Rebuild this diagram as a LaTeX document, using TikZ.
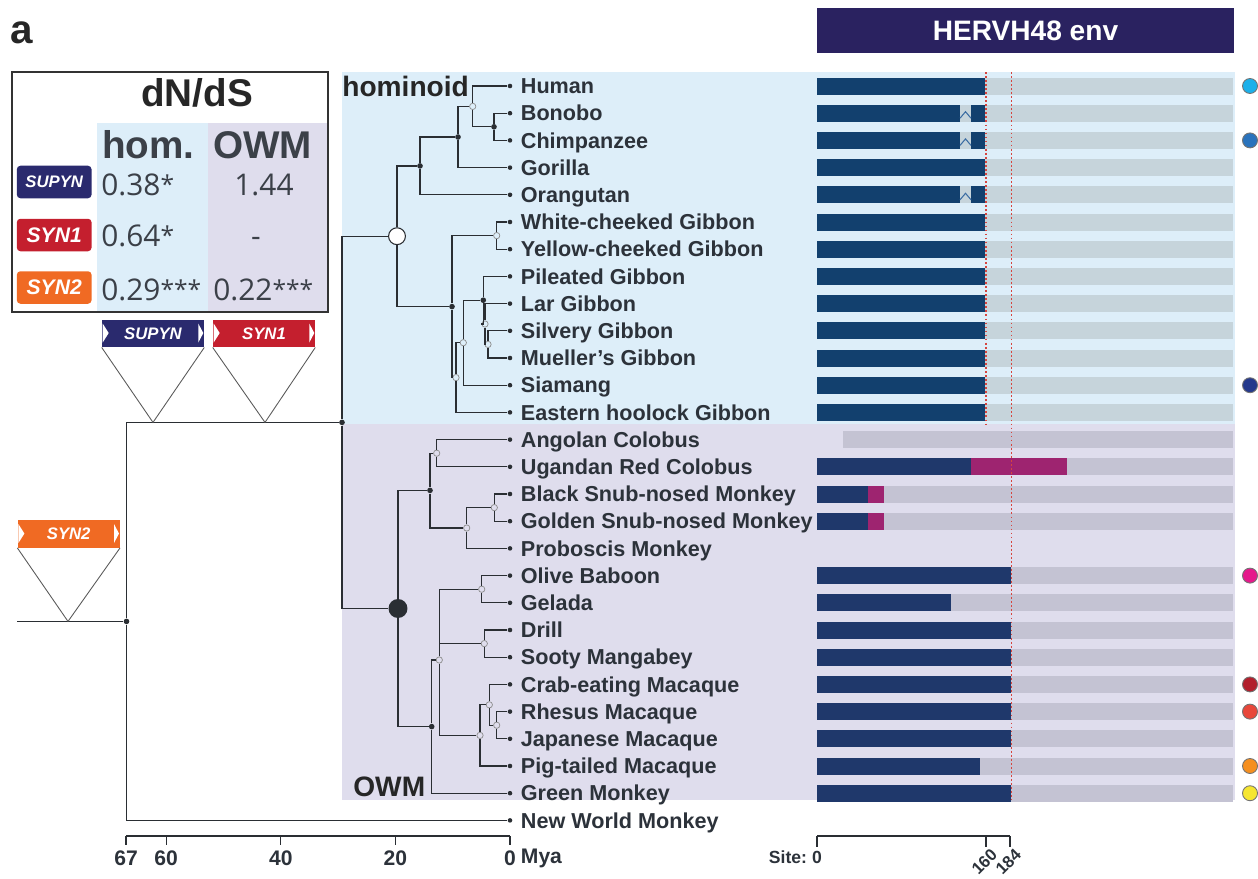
\documentclass[tikz,border=0pt]{standalone}
\usepackage{fontspec}
\setmainfont{Liberation Sans}
\newfontfamily\valfont{Open Sans}
\usetikzlibrary{positioning}

\definecolor{homBg}{HTML}{DDEEF9}
\definecolor{owmBg}{HTML}{DFDDED}
\definecolor{homDark}{HTML}{12406E}
\definecolor{owmDark}{HTML}{1F386B}
\definecolor{homGray}{HTML}{C6D4DB}
\definecolor{owmGray}{HTML}{C4C3D3}
\definecolor{fsMag}{HTML}{9E2470}
\definecolor{hdrCol}{HTML}{2A2260}
\definecolor{supCol}{HTML}{2A2A6E}
\definecolor{synOne}{HTML}{C41F2E}
\definecolor{synTwo}{HTML}{F06A23}
\definecolor{labCol}{HTML}{2C323A}
\definecolor{treeCol}{HTML}{2A2E33}
\definecolor{valCol}{HTML}{3B4048}
\definecolor{cutRed}{HTML}{D6453F}
\definecolor{zigCol}{HTML}{3C6DA3}
\definecolor{dotA}{HTML}{1CB0EA}
\definecolor{dotB}{HTML}{2A73BC}
\definecolor{dotC}{HTML}{25398C}
\definecolor{dotD}{HTML}{E5198B}
\definecolor{dotE}{HTML}{B21F2C}
\definecolor{dotF}{HTML}{E8473A}
\definecolor{dotG}{HTML}{F58F20}
\definecolor{dotH}{HTML}{F6E630}

\newcommand{\sig}[1]{{\fontsize{14}{14}\selectfont\raisebox{1pt}{#1}}}

\begin{document}
\begin{tikzpicture}[x=0.02cm, y=-0.02cm,
    leaf/.style = {circle, fill=treeCol, inner sep=0pt, minimum size=2.6pt},
    bnode/.style = {circle, fill=treeCol, inner sep=0pt, minimum size=3.2pt},
    gnode/.style = {circle, draw=black!45, line width=0.4pt, inner sep=0pt, minimum size=3.6pt},
    lab/.style = {font=\fontsize{12.3}{14}\selectfont\bfseries, text=labCol, inner sep=0.5pt, text height=8.8pt, text depth=0pt},
    branch/.style = {draw=treeCol, line width=0.75pt},
    tri/.style = {draw=black!65, line width=0.5pt},
    banner/.style = {fill=#1, text=white, font=\fontsize{9.5}{10}\selectfont\bfseries\itshape, minimum width=58pt, minimum height=15.5pt, inner sep=0pt},
    genebox/.style = {fill=#1, rounded corners=2pt, text=white, font=\fontsize{12}{12}\selectfont\bfseries\itshape, minimum width=42.5pt, minimum height=18.5pt, inner sep=0pt},
    val/.style = {font=\valfont\fontsize{17}{17}\selectfont, text=valCol, inner sep=0pt},
    colhead/.style = {font=\fontsize{22}{22}\selectfont\bfseries, inner sep=0pt, anchor=base},
    grouplab/.style = {font=\fontsize{16}{16}\selectfont\bfseries, text=black!85, inner sep=0pt, anchor=base west},
    axlab/.style = {font=\fontsize{12}{12}\selectfont\bfseries, text=labCol, inner sep=0.5pt},
    sitelab/.style = {font=\fontsize{10}{10}\selectfont\bfseries, text=labCol, inner sep=0.5pt},
    cut/.style = {draw=cutRed, line width=0.7pt, dash pattern=on 1pt off 1.3pt},
  ]
  \useasboundingbox (0,0) rectangle (1258,879);

  % clade backgrounds
  \fill[homBg] (342,72) rectangle (1235,424);
  \fill[owmBg] (342,424) rectangle (1235,800);

  % env tracks
  \foreach \i in {0,...,12}
    \fill[homGray] (817,{86+27.2*\i-8.5}) rectangle (1233,{86+27.2*\i+8.5});
  \foreach \i in {14,15,16,18,19,20,21,22,23,24,25,26}
    \fill[owmGray] (817,{86+27.2*\i-8.5}) rectangle (1233,{86+27.2*\i+8.5});
  \fill[owmGray] (843,{86+27.2*13-8.5}) rectangle (1233,{86+27.2*13+8.5});

  \foreach \i in {0,3,5,6,7,8,9,10,11,12}
    \fill[homDark] (817,{86+27.2*\i-8.5}) rectangle (985,{86+27.2*\i+8.5});
  \foreach \i in {1,2,4} {
    \fill[homDark] (817,{86+27.2*\i-8.5}) rectangle (960,{86+27.2*\i+8.5});
    \fill[homDark] (971,{86+27.2*\i-8.5}) rectangle (985,{86+27.2*\i+8.5});
    \draw[zigCol, line width=0.6pt] (960,{86+27.2*\i+5}) -- (965.5,{86+27.2*\i-1.5}) -- (971,{86+27.2*\i+5});
  }
  \foreach \i/\e in {14/971,15/868,16/868,18/1011,19/951,20/1011,21/1011,22/1011,23/1011,24/1011,25/980,26/1011}
    \fill[owmDark] (817,{86+27.2*\i-8.5}) rectangle (\e,{86+27.2*\i+8.5});
  \foreach \i/\s/\e in {14/971/1067,15/868/884,16/868/884}
    \fill[fsMag] (\s,{86+27.2*\i-8.5}) rectangle (\e,{86+27.2*\i+8.5});

  \draw[cut] (986,72) -- (986,424);
  \draw[cut] (1011.5,72) -- (1011.5,800);

  % expression dots
  \foreach \i/\c in {0/dotA,2/dotB,11/dotC,18/dotD,22/dotE,23/dotF,25/dotG,26/dotH}
    \filldraw[fill=\c, draw=black!55, line width=0.5pt] (1250,{86+27.2*\i}) circle[radius=7.5];

  \node[fill=hdrCol, text=white, font=\fontsize{16}{16}\selectfont\bfseries, minimum width=237.6pt, minimum height=25.5pt, inner sep=0pt] (hdr) at (1025.5,30.5) {HERVH48 env};
  \node[font=\fontsize{23}{23}\selectfont\bfseries, text=black!85, inner sep=0pt] (panel) at (22,33.3) {a};

  % dN/dS table
  \fill[homBg] (96.7,123) rectangle (208.3,311.7);
  \fill[owmBg] (208.3,123) rectangle (328,311.7);
  \draw[black!80, line width=1.1pt] (11.7,71.7) rectangle (328,311.7);
  \node[colhead, text=black!85] (dnds) at (197,106.7) {dN/dS};
  \node[colhead, text=valCol] (homcol) at (148.5,158) {hom.};
  \node[colhead, text=valCol] (owmcol) at (262.5,158) {OWM};
  \node[genebox=supCol, font=\fontsize{9.5}{10}\selectfont\bfseries\itshape] (tsup) at (54.2,182) {SUPYN};
  \node[genebox=synOne] (tsyn1) at (54.2,235) {SYN1};
  \node[genebox=synTwo] (tsyn2) at (54.2,287.5) {SYN2};
  \node[val, anchor=base west] (v1) at (101,195) {0.38\sig{*}};
  \node[val, anchor=base] (w1) at (264,195) {1.44};
  \node[val, anchor=base west] (v2) at (101,246.7) {0.64\sig{*}};
  \node[val, anchor=base] (w2) at (256,246.7) {-};
  \node[val, anchor=base west] (v3) at (101,300) {0.29\sig{***}};
  \node[val, anchor=base west] (w3) at (213,300) {0.22\sig{***}};

  % leaves
  \foreach \n/\t [count=\i from 0] in {human/Human, bonobo/Bonobo, chimp/Chimpanzee, gorilla/Gorilla, orang/Orangutan, wcg/White-cheeked Gibbon, ycg/Yellow-cheeked Gibbon, pil/Pileated Gibbon, lar/Lar Gibbon, silv/Silvery Gibbon, muel/Mueller’s Gibbon, siam/Siamang, hool/Eastern hoolock Gibbon, angc/Angolan Colobus, ugrc/Ugandan Red Colobus, bsnm/Black Snub-nosed Monkey, gsnm/Golden Snub-nosed Monkey, prob/Proboscis Monkey, oliv/Olive Baboon, gela/Gelada, drill/Drill, sooty/Sooty Mangabey, crab/Crab-eating Macaque, rhes/Rhesus Macaque, japm/Japanese Macaque, pigt/Pig-tailed Macaque, green/Green Monkey, nwm/New World Monkey} {
    \node[leaf] (\n) at (510,{86+27.2*\i}) {};
    \node[lab, right=4pt of \n] (\n-l) {\t};
  }

  % inner nodes, hominoids
  \node[bnode] (pan) at (494,126.8) {};
  \node[gnode] (hp) at (472.7,106.4) {};
  \node[bnode] (hpg) at (458,137) {};
  \node[bnode] (hominid) at (420,165.9) {};
  \node[gnode] (nomas) at (496.7,235.6) {};
  \node[gnode] (h3) at (488,344.4) {};
  \node[gnode] (h2) at (485,324) {};
  \node[bnode] (h1) at (483.3,300.2) {};
  \node[gnode] (hs) at (463.3,342.7) {};
  \node[gnode] (hsh) at (456,377.6) {};
  \node[bnode] (gibbon) at (452,306.6) {};
  \node[circle, draw=treeCol, fill=white, line width=0.6pt, inner sep=0pt, minimum size=9.6pt] (hominoid) at (397,236.2) {};

  % inner nodes, OWM
  \node[gnode] (afcol) at (436.7,453.2) {};
  \node[gnode] (rhino) at (494.3,507.6) {};
  \node[gnode] (ascol) at (466.7,528) {};
  \node[bnode] (colob) at (430,490.4) {};
  \node[gnode] (papth) at (481.7,589.2) {};
  \node[gnode] (mancer) at (484.3,643.6) {};
  \node[gnode] (rj) at (496.7,725.2) {};
  \node[gnode] (crj) at (489.3,704.8) {};
  \node[gnode] (maca) at (480,735.4) {};
  \node[gnode] (papio) at (439.3,660) {};
  \node[bnode] (cerco) at (431.7,726.6) {};
  \node[circle, fill=treeCol, inner sep=0pt, minimum size=10.8pt] (owm) at (398,608.5) {};

  \node[bnode] (catar) at (342,422.4) {};
  \node[bnode] (root) at (126.5,621.4) {};
  \coordinate (stem) at (17,621.4);

  \foreach \p/\c in {pan/bonobo, pan/chimp, hp/human, hp/pan, hpg/hp, hpg/gorilla, hominid/hpg, hominid/orang,
      nomas/wcg, nomas/ycg, h3/silv, h3/muel, h2/lar, h2/h3, h1/pil, h1/h2, hs/h1, hs/siam, hsh/hs, hsh/hool,
      gibbon/nomas, gibbon/hsh, hominoid/hominid, hominoid/gibbon,
      afcol/angc, afcol/ugrc, rhino/bsnm, rhino/gsnm, ascol/rhino, ascol/prob, colob/afcol, colob/ascol,
      papth/oliv, papth/gela, mancer/drill, mancer/sooty, rj/rhes, rj/japm, crj/crab, crj/rj, maca/crj, maca/pigt,
      papio/papth, papio/mancer, papio/maca, cerco/papio, cerco/green, owm/colob, owm/cerco,
      catar/hominoid, catar/owm, root/catar, root/nwm}
    \draw[branch] (\p) |- (\c);
  \draw[branch] (stem) -- (root);

  \node[grouplab] (homlab) at (342,96.5) {hominoid};
  \node[grouplab] (owmlab) at (353,796.5) {OWM};

  % gene gains
  \node[banner=supCol] (bsup) at (153,333.5) {SUPYN};
  \node[banner=synOne] (bsyn1) at (264,333.5) {SYN1};
  \node[banner=synTwo] (bsyn2) at (68.7,534) {SYN2};
  \coordinate (asup) at (153,422.4);
  \coordinate (asyn1) at (265,422.4);
  \coordinate (asyn2) at (68,621.4);
  \draw[tri] (bsup.south west) -- (asup) -- (bsup.south east);
  \draw[tri] (bsyn1.south west) -- (asyn1) -- (bsyn1.south east);
  \draw[tri] (bsyn2.south west) -- (asyn2) -- (bsyn2.south east);
  \foreach \b in {bsup,bsyn1,bsyn2} {
    \fill[white] (\b.north west) ++(1,4) -- ++(6,9.5) -- ++(-6,9.5) -- cycle;
    \fill[white] (\b.north east) ++(-6,4) -- ++(5,9.5) -- ++(-5,9.5) -- cycle;
  }

  % time axis
  \foreach \m in {67,60,40,20,0} {
    \coordinate (t\m) at ({510-\m*5.731},836);
    \draw[treeCol, line width=0.7pt] (t\m) -- ++(0,9);
    \node[axlab] (l\m) at ({510-\m*5.731},858) {\m};
  }
  \draw[treeCol, line width=0.7pt] (t67) -- (t0);
  \node[axlab, right=1.5pt of l0] (mya) {Mya};

  % site axis
  \coordinate (s0) at (817,836);
  \coordinate (s160) at (986,836);
  \coordinate (s184) at (1010,836);
  \draw[treeCol, line width=0.7pt] (s0) -- (s184);
  \foreach \s in {s0,s160,s184}
    \draw[treeCol, line width=0.7pt] (\s) -- ++(0,11);
  \node[sitelab] (sl0) at (817,857) {0};
  \node[sitelab, left=1.5pt of sl0] (site) {Site:};
  \node[sitelab, font=\fontsize{9.5}{9.5}\selectfont\bfseries, rotate=45, anchor=east] (sl160) at (995,851) {160};
  \node[sitelab, font=\fontsize{9.5}{9.5}\selectfont\bfseries, rotate=45, anchor=east] (sl184) at (1019,851) {184};
\end{tikzpicture}
\end{document}
